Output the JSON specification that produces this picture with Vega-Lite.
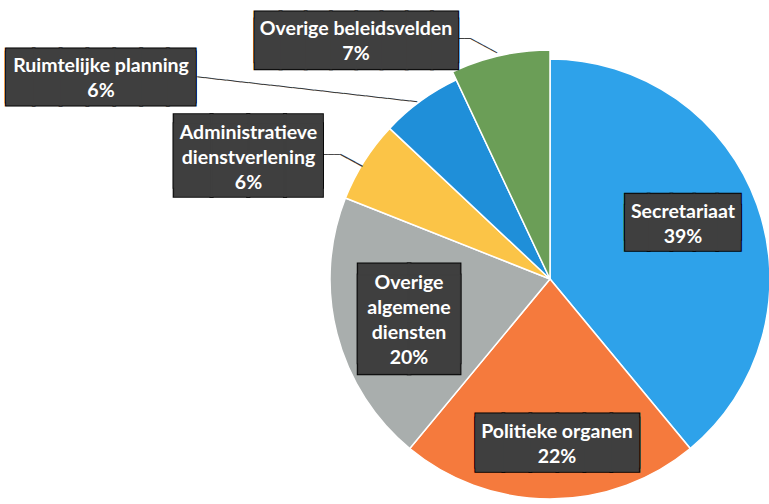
{
  "$schema": "https://vega.github.io/schema/vega-lite/v6.json",
  "width": 440,
  "height": 440,
  "autosize": "none",
  "padding": {"left": 330, "top": 59, "right": 0, "bottom": 5},
  "background": "#ffffff",
  "config": {"view": {"stroke": null}},
  "data": {
    "values": [
      {"category": "Secretariaat", "label": "Secretariaat", "value": 39, "rank": 1},
      {"category": "Politieke organen", "label": "Politieke organen", "value": 22, "rank": 2},
      {"category": "Overige algemene diensten", "label": "Overige\nalgemene\ndiensten", "value": 20, "rank": 3},
      {"category": "Administratieve dienstverlening", "label": "Administratieve\ndienstverlening", "value": 6, "rank": 4},
      {"category": "Ruimtelijke planning", "label": "Ruimtelijke planning", "value": 6, "rank": 5},
      {"category": "Overige beleidsvelden", "label": "Overige beleidsvelden", "value": 7, "rank": 6}
    ]
  },
  "transform": [
    {"stack": "value", "groupby": [], "sort": [{"field": "rank", "order": "ascending"}], "as": ["v0", "v1"]},
    {"calculate": "(datum.v0 + datum.v1) / 2", "as": "mid"},
    {"calculate": "datum.label + '\\n' + datum.value + '%'", "as": "txt"}
  ],
  "encoding": {
    "theta": {"field": "mid", "type": "quantitative", "stack": null, "scale": {"domain": [0, 100], "range": [0, 6.283185307]}}
  },
  "layer": [
    {
      "transform": [{"filter": "datum.category != 'Overige beleidsvelden'"}],
      "mark": {"type": "arc", "outerRadius": 220, "stroke": "#ffffff", "strokeWidth": 1.5},
      "encoding": {
        "theta": {"field": "v0", "type": "quantitative", "stack": null, "scale": {"domain": [0, 100], "range": [0, 6.283185307]}},
        "theta2": {"field": "v1"},
        "color": {
          "field": "category", "type": "nominal", "legend": null,
          "scale": {
            "domain": ["Secretariaat", "Politieke organen", "Overige algemene diensten", "Administratieve dienstverlening", "Ruimtelijke planning", "Overige beleidsvelden"],
            "range": ["#2ea2ea", "#f57a3d", "#a9aead", "#fbc447", "#1f8fd9", "#6b9e57"]
          }
        }
      }
    },
    {
      "transform": [{"filter": "datum.category == 'Overige beleidsvelden'"}],
      "mark": {"type": "arc", "outerRadius": 229, "stroke": "#ffffff", "strokeWidth": 1.5},
      "encoding": {
        "theta": {"field": "v0", "type": "quantitative", "stack": null, "scale": {"domain": [0, 100], "range": [0, 6.283185307]}},
        "theta2": {"field": "v1"},
        "color": {"field": "category", "type": "nominal", "legend": null}
      }
    },
    {
      "transform": [{"filter": "datum.category == 'Ruimtelijke planning'"}],
      "mark": {"type": "text", "text": "──────────────────────────────", "font": "DejaVu Sans Mono", "fontSize": 12.26, "fill": "#3a3a3a", "align": "center", "baseline": "middle", "radius": 295.3, "angle": 6.48, "dx": -63.4, "dy": 56.9}
    },
    {
      "transform": [{"filter": "datum.category == 'Overige beleidsvelden'"}],
      "layer": [
        {"mark": {"type": "text", "text": "──", "font": "DejaVu Sans Mono", "fontSize": 10.8, "fill": "#3a3a3a", "align": "center", "baseline": "middle", "radius": 218, "angle": 0, "dx": -38, "dy": -27.2}},
        {"mark": {"type": "text", "text": "────", "font": "DejaVu Sans Mono", "fontSize": 12.25, "fill": "#3a3a3a", "align": "center", "baseline": "middle", "radius": 218, "angle": 28.3, "dx": -25.87, "dy": -9.02}}
      ]
    },
    {
      "transform": [{"filter": "datum.category == 'Administratieve dienstverlening'"}],
      "layer": [
        {"mark": {"type": "text", "text": "───", "font": "DejaVu Sans Mono", "fontSize": 9.97, "fill": "#3a3a3a", "align": "center", "baseline": "middle", "radius": 218, "angle": 0, "dx": -34.9, "dy": -7.2}},
        {"mark": {"type": "text", "text": "───", "font": "DejaVu Sans Mono", "fontSize": 13.9, "fill": "#3a3a3a", "align": "center", "baseline": "middle", "radius": 218, "angle": 28.6, "dx": -13.65, "dy": 6.08}}
      ]
    },
    {
      "transform": [{"filter": "datum.category == 'Secretariaat'"}],
      "layer": [
        {"mark": {"type": "text", "text": ["█████", "█████"], "font": "DejaVu Sans Mono", "fontSize": 37.9, "lineHeight": 10.9, "fill": "#000000", "stroke": "#000000", "strokeWidth": 3, "align": "center", "baseline": "middle", "radius": 144, "dx": -2.5, "dy": -11.45}},
        {"mark": {"type": "text", "text": ["█████", "█████"], "font": "DejaVu Sans Mono", "fontSize": 37.9, "lineHeight": 10.9, "fill": "#3f3f3f", "stroke": "#3f3f3f", "strokeWidth": 1, "align": "center", "baseline": "middle", "radius": 144, "dx": -2.5, "dy": -11.45}},
        {"mark": {"type": "text", "font": "Lato", "fontWeight": "bold", "fontSize": 19.5, "lineHeight": 25, "lineBreak": "\n", "fill": "#ffffff", "align": "center", "baseline": "middle", "radius": 144, "dx": -2.5, "dy": -18.7}, "encoding": {"text": {"field": "txt", "type": "nominal"}}}
      ]
    },
    {
      "transform": [{"filter": "datum.category == 'Politieke organen'"}],
      "layer": [
        {"mark": {"type": "text", "text": ["██████", "██████"], "font": "DejaVu Sans Mono", "fontSize": 44.85, "lineHeight": 3.8, "fill": "#000000", "stroke": "#000000", "strokeWidth": 3, "align": "center", "baseline": "middle", "radius": 164, "dx": 7, "dy": 0.2}},
        {"mark": {"type": "text", "text": ["██████", "██████"], "font": "DejaVu Sans Mono", "fontSize": 44.85, "lineHeight": 3.8, "fill": "#3f3f3f", "stroke": "#3f3f3f", "strokeWidth": 1, "align": "center", "baseline": "middle", "radius": 164, "dx": 7, "dy": 0.2}},
        {"mark": {"type": "text", "font": "Lato", "fontWeight": "bold", "fontSize": 19.5, "lineHeight": 25, "lineBreak": "\n", "fill": "#ffffff", "align": "center", "baseline": "middle", "radius": 164, "dx": 7, "dy": -11}, "encoding": {"text": {"field": "txt", "type": "nominal"}}}
      ]
    },
    {
      "transform": [{"filter": "datum.category == 'Overige algemene diensten'"}],
      "layer": [
        {"mark": {"type": "text", "text": ["██", "██"], "font": "DejaVu Sans Mono", "fontSize": 83.1, "lineHeight": 11.3, "fill": "#000000", "stroke": "#000000", "strokeWidth": 3, "align": "center", "baseline": "middle", "radius": 147, "dx": 1.4, "dy": 1.55}},
        {"mark": {"type": "text", "text": ["██", "██"], "font": "DejaVu Sans Mono", "fontSize": 83.1, "lineHeight": 11.3, "fill": "#3f3f3f", "stroke": "#3f3f3f", "strokeWidth": 1, "align": "center", "baseline": "middle", "radius": 147, "dx": 1.4, "dy": 1.55}},
        {"mark": {"type": "text", "font": "Lato", "fontWeight": "bold", "fontSize": 19.5, "lineHeight": 25, "lineBreak": "\n", "fill": "#ffffff", "align": "center", "baseline": "middle", "radius": 147, "dx": 1.4, "dy": -32.6}, "encoding": {"text": {"field": "txt", "type": "nominal"}}}
      ]
    },
    {
      "transform": [{"filter": "datum.category == 'Administratieve dienstverlening'"}],
      "layer": [
        {"mark": {"type": "text", "text": ["████", "████"], "font": "DejaVu Sans Mono", "fontSize": 61.0, "lineHeight": 8.9, "fill": "#000000", "stroke": "#000000", "strokeWidth": 3, "align": "center", "baseline": "middle", "radius": 320, "dx": -31.3, "dy": 46.85}},
        {"mark": {"type": "text", "text": ["████", "████"], "font": "DejaVu Sans Mono", "fontSize": 61.0, "lineHeight": 8.9, "fill": "#3f3f3f", "stroke": "#3f3f3f", "strokeWidth": 1, "align": "center", "baseline": "middle", "radius": 320, "dx": -31.3, "dy": 46.85}},
        {"mark": {"type": "text", "font": "Lato", "fontWeight": "bold", "fontSize": 19.5, "lineHeight": 25, "lineBreak": "\n", "fill": "#ffffff", "align": "center", "baseline": "middle", "radius": 320, "dx": -31.3, "dy": 25}, "encoding": {"text": {"field": "txt", "type": "nominal"}}}
      ]
    },
    {
      "transform": [{"filter": "datum.category == 'Ruimtelijke planning'"}],
      "layer": [
        {"mark": {"type": "text", "text": ["███████", "███████"], "font": "DejaVu Sans Mono", "fontSize": 44.6, "lineHeight": 3.1, "fill": "#000000", "stroke": "#000000", "strokeWidth": 3, "align": "center", "baseline": "middle", "radius": 426, "dx": -198.6, "dy": 143.65}},
        {"mark": {"type": "text", "text": ["███████", "███████"], "font": "DejaVu Sans Mono", "fontSize": 44.6, "lineHeight": 3.1, "fill": "#3f3f3f", "stroke": "#3f3f3f", "strokeWidth": 1, "align": "center", "baseline": "middle", "radius": 426, "dx": -198.6, "dy": 143.65}},
        {"mark": {"type": "text", "font": "Lato", "fontWeight": "bold", "fontSize": 19.5, "lineHeight": 25, "lineBreak": "\n", "fill": "#ffffff", "align": "center", "baseline": "middle", "radius": 426, "dx": -198.6, "dy": 132.1}, "encoding": {"text": {"field": "txt", "type": "nominal"}}}
      ]
    },
    {
      "transform": [{"filter": "datum.category == 'Overige beleidsvelden'"}],
      "layer": [
        {"mark": {"type": "text", "text": ["████████", "████████"], "font": "DejaVu Sans Mono", "fontSize": 41.9, "lineHeight": 6.2, "fill": "#000000", "stroke": "#000000", "strokeWidth": 3, "align": "center", "baseline": "middle", "radius": 275, "dx": -134, "dy": 27.7}},
        {"mark": {"type": "text", "text": ["████████", "████████"], "font": "DejaVu Sans Mono", "fontSize": 41.9, "lineHeight": 6.2, "fill": "#3f3f3f", "stroke": "#3f3f3f", "strokeWidth": 1, "align": "center", "baseline": "middle", "radius": 275, "dx": -134, "dy": 27.7}},
        {"mark": {"type": "text", "font": "Lato", "fontWeight": "bold", "fontSize": 19.5, "lineHeight": 25, "lineBreak": "\n", "fill": "#ffffff", "align": "center", "baseline": "middle", "radius": 275, "dx": -134, "dy": 17.9}, "encoding": {"text": {"field": "txt", "type": "nominal"}}}
      ]
    }
  ]
}
